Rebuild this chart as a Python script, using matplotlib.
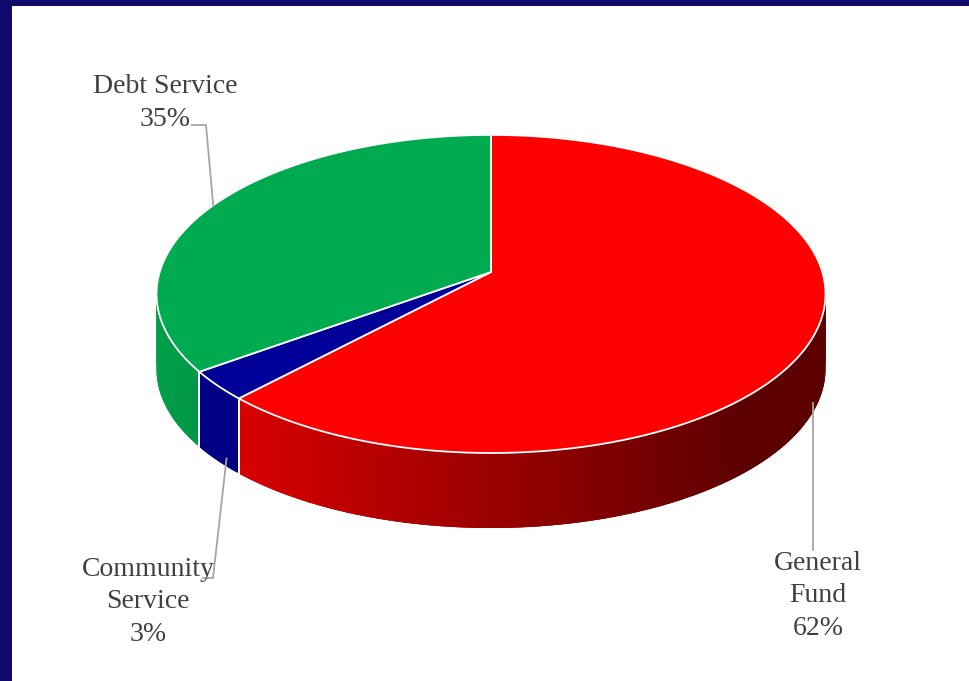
import matplotlib.pyplot as plt
import numpy as np
from matplotlib.patches import Polygon
from matplotlib.colors import to_rgb

# data
labels = ["General\nFund", "Community\nService", "Debt Service"]
values = [62, 3, 35]
colors = ["#ff0000", "#000099", "#00ab50"]

# label placement (pixel coords of the 970x681 canvas)
label_pos = [(818, 596), (148, 602), (165, 103)]

# fake 3d pie geometry: perspective-tilted disk
cx, cy = 491, 272
s, k, p = 331.3, 156.0, 0.138
depth = 75


def proj(theta, r=1.0):
    t = np.radians(theta)
    u = r * np.sin(t)
    v = r * np.cos(t)
    w = 1 + p * v
    return cx + s * u / w, cy - k * v / w


def shade(x):
    return float(np.clip(0.90 - (x - 180) * 0.00095, 0.36, 1.0))


fig = plt.figure(figsize=(9.7, 6.81), dpi=100)
fig.patch.set_facecolor("#100a6e")
ax = fig.add_axes([12 / 970, 0, 958 / 970, 675 / 681])
ax.set_xlim(12, 970)
ax.set_ylim(681, 6)
ax.set_facecolor("white")
ax.set_xticks([])
ax.set_yticks([])
for sp in ax.spines.values():
    sp.set_visible(False)

total = float(sum(values))
bounds = np.concatenate([[0], np.cumsum(values) / total * 360])
sil_lo = np.degrees(np.arccos(p))          # right silhouette angle
sil_hi = 360 - sil_lo                       # left silhouette angle

# side walls, shaded left -> right; strips overlap a little to hide seams
for i in range(len(values)):
    a, b = bounds[i], bounds[i + 1]
    lo, hi = max(a, sil_lo), min(b, sil_hi)
    if lo >= hi:
        continue
    base = np.array(to_rgb(colors[i]))
    th = np.linspace(lo, hi, int((hi - lo) * 2) + 2)
    for t1, t2 in zip(th[:-1], th[1:]):
        t2e = min(t2 + 0.8, hi)
        seg = np.linspace(t1, t2e, 4)
        top = [proj(t) for t in seg]
        bot = [(x, y + depth) for x, y in top[::-1]]
        xm = (top[0][0] + top[-1][0]) / 2
        ax.add_patch(Polygon(top + bot, closed=True, facecolor=base * shade(xm),
                             lw=0, zorder=2))
    for t in (a, b):
        if sil_lo < t < sil_hi:
            x, y = proj(t)
            ax.plot([x, x], [y, y + depth], color="white", lw=1.3, zorder=3)

# top faces
for i in range(len(values)):
    a, b = bounds[i], bounds[i + 1]
    th = np.linspace(a, b, int((b - a) * 2) + 2)
    pts = [proj(0, 0)] + [proj(t) for t in th]
    ax.add_patch(Polygon(pts, closed=True, facecolor=colors[i], edgecolor="white",
                         lw=1.3, zorder=4, joinstyle="round"))

# labels and leader lines
lc = "#a6a6a6"
for i in range(len(values)):
    mid = (bounds[i] + bounds[i + 1]) / 2
    pct = "%d%%" % round(values[i] / total * 100)
    lx, ly = label_pos[i]
    ax.text(lx, ly, labels[i] + "\n" + pct, ha="center", va="center",
            multialignment="center", family="Liberation Serif", fontsize=20,
            color="#404040", linespacing=1.38, zorder=6)
    mx, my = proj(mid)
    if 90 < mid < 270:
        my = my + depth - 5
    if i == 0:
        ax.plot([mx - 3, mx - 3], [my, 550], color=lc, lw=1.3, zorder=5)
    elif i == 1:
        ax.plot([mx + 9, 213, 203], [my + 3, 578, 578], color=lc, lw=1.3, zorder=5)
    else:
        ax.plot([mx, 206, 192], [my, 125, 125], color=lc, lw=1.3, zorder=5)

plt.savefig("out.png", dpi=100, facecolor=fig.get_facecolor())
